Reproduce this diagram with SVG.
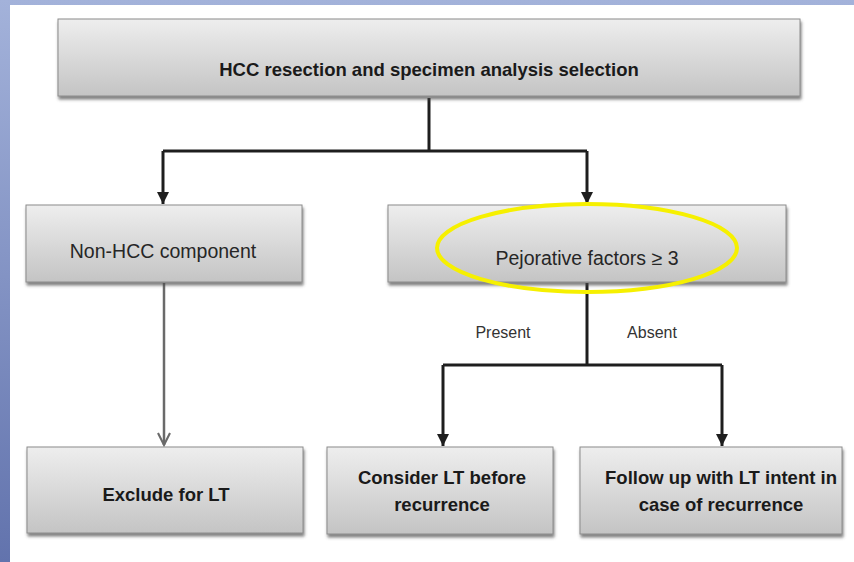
<svg xmlns="http://www.w3.org/2000/svg" width="854" height="562" viewBox="0 0 854 562">
  <defs>
    <linearGradient id="slideBg" x1="0" y1="0" x2="0" y2="1">
      <stop offset="0" stop-color="#a3b2da"/>
      <stop offset="1" stop-color="#6273ad"/>
    </linearGradient>
    <linearGradient id="boxFill" x1="0" y1="0" x2="0" y2="1">
      <stop offset="0" stop-color="#eeeeee"/>
      <stop offset="1" stop-color="#c4c4c4"/>
    </linearGradient>
    <filter id="boxShadow" x="-5%" y="-10%" width="110%" height="130%">
      <feDropShadow dx="1" dy="3" stdDeviation="1.5" flood-color="#4a4a4a" flood-opacity="0.7"/>
    </filter>
    <marker id="arrowSolid" viewBox="0 0 10 10" refX="10" refY="5" markerWidth="4" markerHeight="4" orient="auto" markerUnits="strokeWidth">
      <path d="M0,0 L10,5 L0,10 Z" fill="#1e1e1e"/>
    </marker>
    <marker id="arrowOpen" viewBox="0 0 10 10" refX="9" refY="5" markerWidth="6" markerHeight="6" orient="auto" markerUnits="strokeWidth">
      <path d="M1,1 L9,5 L1,9" fill="none" stroke="#6a6a6a" stroke-width="1.4"/>
    </marker>
    <style>
      .box { fill: url(#boxFill); stroke: #8c8c8c; stroke-width: 1; filter: url(#boxShadow); }
      .lbl { font-family: "Liberation Sans", Arial, sans-serif; fill: #1a1a1a; text-anchor: middle; }
      .reg { font-size: 19.5px; fill: #262626; }
      .bold { font-size: 18.5px; font-weight: bold; }
      .small { font-size: 16px; fill: #333333; }
      .wire { fill: none; stroke: #1e1e1e; stroke-width: 3; }
      .wireGray { fill: none; stroke: #6a6a6a; stroke-width: 2.5; }
    </style>
  </defs>

  <!-- slide background -->
  <rect x="0" y="0" width="854" height="562" fill="url(#slideBg)"/>
  <rect x="10" y="5" width="844" height="557" fill="#ffffff"/>

  <!-- connectors -->
  <g id="connectors">
    <path class="wire" d="M429,98 V151"/>
    <path class="wire" d="M163,151 H587"/>
    <path class="wire" d="M163,151 V204" marker-end="url(#arrowSolid)"/>
    <path class="wire" d="M587,151 V204" marker-end="url(#arrowSolid)"/>
    <path class="wire" d="M587,283 V365"/>
    <path class="wire" d="M443,365 H722"/>
    <path class="wire" d="M443,365 V446" marker-end="url(#arrowSolid)"/>
    <path class="wire" d="M722,365 V446" marker-end="url(#arrowSolid)"/>
    <path class="wireGray" d="M164,283 V445" marker-end="url(#arrowOpen)"/>
    <text class="lbl small" x="503" y="338">Present</text>
    <text class="lbl small" x="652" y="338">Absent</text>
  </g>

  <g id="node-hcc-resection">
    <rect class="box" x="58" y="19" width="742" height="77"/>
    <text class="lbl bold" x="429" y="76">HCC resection and specimen analysis selection</text>
  </g>

  <g id="node-non-hcc">
    <rect class="box" x="26" y="205" width="276" height="77"/>
    <text class="lbl reg" x="163" y="258">Non-HCC component</text>
  </g>

  <g id="node-pejorative">
    <rect class="box" x="388" y="205" width="398" height="77"/>
    <text class="lbl reg" x="587" y="265">Pejorative factors ≥ 3</text>
    <ellipse cx="587" cy="248" rx="150" ry="44" fill="none" stroke="#f6f000" stroke-width="4"/>
  </g>

  <g id="node-exclude">
    <rect class="box" x="27" y="447" width="276" height="86"/>
    <text class="lbl bold" x="166" y="501">Exclude for LT</text>
  </g>

  <g id="node-consider">
    <rect class="box" x="327" y="447" width="226" height="87"/>
    <text class="lbl bold" x="442" y="484">Consider LT before</text>
    <text class="lbl bold" x="442" y="511">recurrence</text>
  </g>

  <g id="node-follow">
    <rect class="box" x="580" y="447" width="262" height="87"/>
    <text class="lbl bold" x="721" y="484">Follow up with LT intent in</text>
    <text class="lbl bold" x="721" y="511">case of recurrence</text>
  </g>
</svg>
